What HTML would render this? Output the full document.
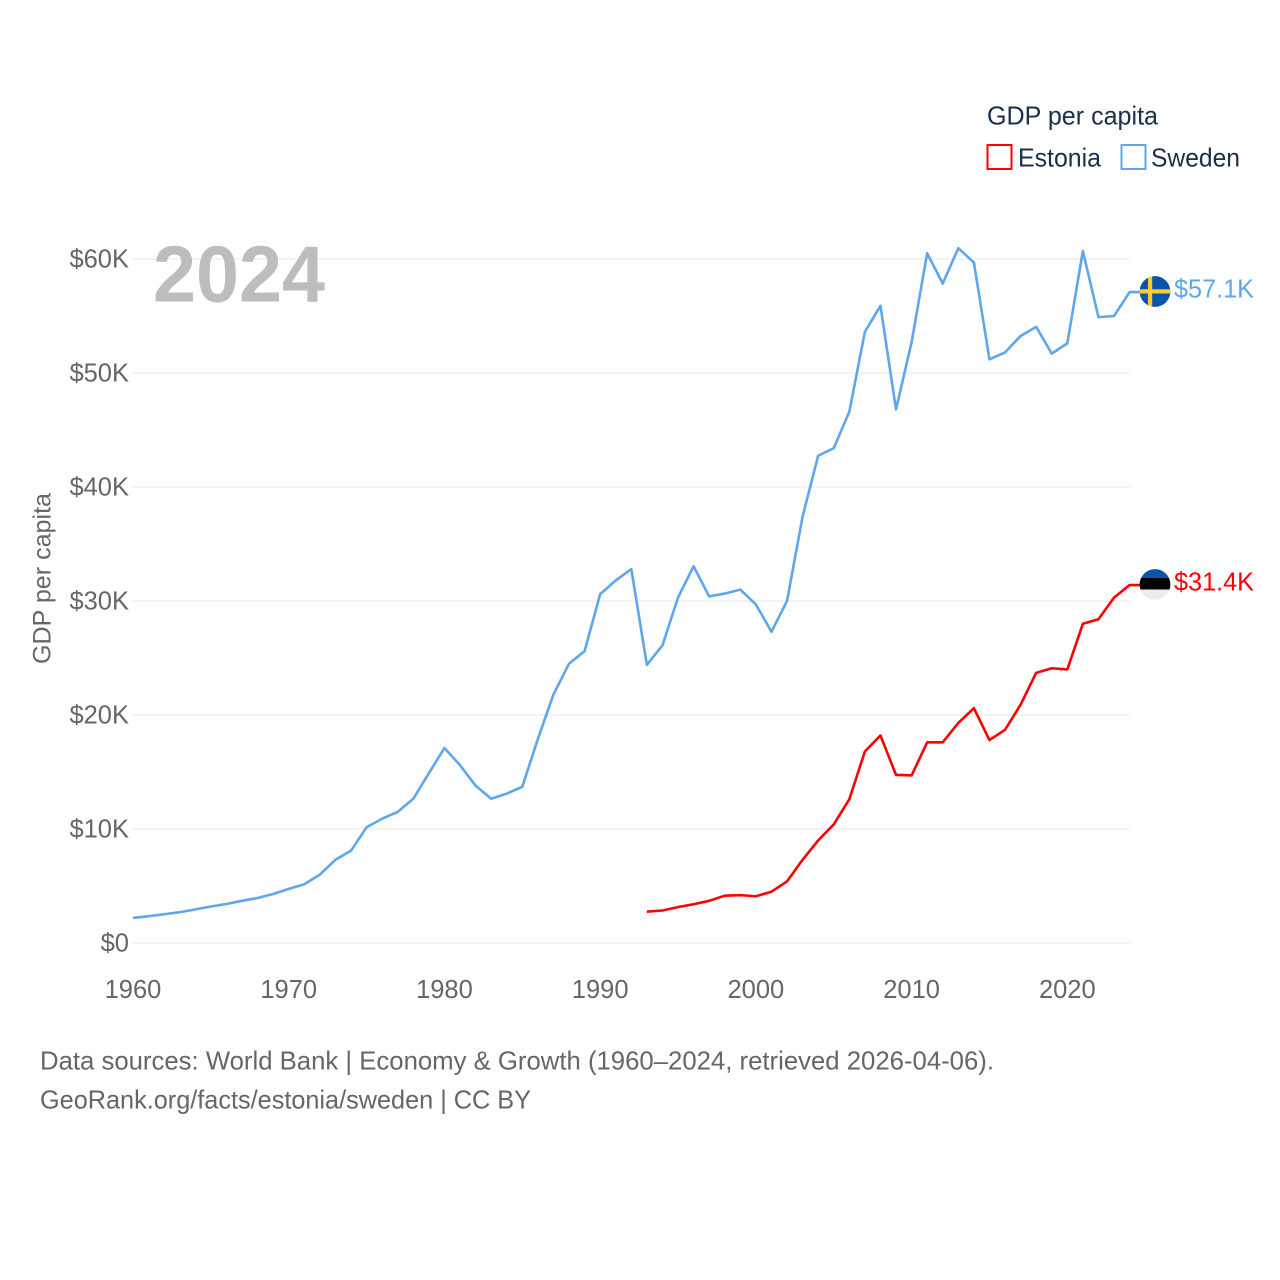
<!DOCTYPE html>
<html lang="en">
<head>
<meta charset="utf-8">
<title>GDP per capita: Estonia and Sweden</title>
<style>
html,body{margin:0;padding:0;background:#fff;}
svg{display:block;font-family:"Liberation Sans",sans-serif;}
</style>
</head>
<body>
<svg id="chart" xmlns="http://www.w3.org/2000/svg" width="1280" height="1280" viewBox="0 0 1280 1280">
  <rect width="1280" height="1280" fill="#ffffff"/>
  <g id="grid"></g>
  <g id="yticks"></g>
  <g id="xticks"></g>
  <text transform="translate(50.5,578.5) rotate(-90)" text-anchor="middle" font-size="25" fill="#666666" textLength="171" lengthAdjust="spacingAndGlyphs">GDP per capita</text>
  <text x="153" y="301.5" font-size="80" font-weight="bold" fill="#bdbdbd" textLength="172" lengthAdjust="spacingAndGlyphs">2024</text>
  <g id="series"></g>

  <defs>
    <clipPath id="sweden-clip"><circle cx="1155" cy="291.5" r="15.4"/></clipPath>
    <clipPath id="estonia-clip"><circle cx="1155" cy="584.5" r="15.4"/></clipPath>
  </defs>
  <g clip-path="url(#sweden-clip)">
    <rect x="1139" y="275" width="32" height="33" fill="#0b54ad"/>
    <rect x="1148" y="275" width="4.2" height="33" fill="#fecb2e"/>
    <rect x="1139" y="289.3" width="32" height="4.2" fill="#fecb2e"/>
  </g>
  <g clip-path="url(#estonia-clip)">
    <rect x="1139" y="568" width="32" height="10" fill="#0b54ad"/>
    <rect x="1139" y="578" width="32" height="11.5" fill="#000000"/>
    <rect x="1139" y="589.5" width="32" height="11" fill="#ececec"/>
  </g>
  <text x="1174" y="297.5" font-size="25.5" fill="#5ea6ee" textLength="80" lengthAdjust="spacingAndGlyphs">$57.1K</text>
  <text x="1174" y="590.5" font-size="25.5" fill="#ff0000" textLength="80" lengthAdjust="spacingAndGlyphs">$31.4K</text>

  <g>
    <text x="987" y="124.5" font-size="26" fill="#1b2f4b" textLength="171" lengthAdjust="spacingAndGlyphs">GDP per capita</text>
    <g>
      <rect x="987.5" y="145" width="24" height="24" fill="none" stroke="#ff0000" stroke-width="2"/>
      <text x="1018" y="166.5" font-size="26" fill="#1b2f4b" textLength="83" lengthAdjust="spacingAndGlyphs">Estonia</text>
    </g>
    <g>
      <rect x="1121.5" y="145" width="24" height="24" fill="none" stroke="#5ea6ee" stroke-width="2"/>
      <text x="1151" y="166.5" font-size="26" fill="#1b2f4b" textLength="89" lengthAdjust="spacingAndGlyphs">Sweden</text>
    </g>
  </g>

  <text x="40" y="1069.5" font-size="26" fill="#666666" textLength="954" lengthAdjust="spacingAndGlyphs">Data sources: World Bank | Economy &amp; Growth (1960–2024, retrieved 2026-04-06).</text>
  <text x="40" y="1108.5" font-size="26" fill="#666666" textLength="491" lengthAdjust="spacingAndGlyphs">GeoRank.org/facts/estonia/sweden | CC BY</text>
</svg>

<script>
const years = [1960,1961,1962,1963,1964,1965,1966,1967,1968,1969,1970,1971,1972,1973,1974,1975,1976,1977,1978,1979,1980,1981,1982,1983,1984,1985,1986,1987,1988,1989,1990,1991,1992,1993,1994,1995,1996,1997,1998,1999,2000,2001,2002,2003,2004,2005,2006,2007,2008,2009,2010,2011,2012,2013,2014,2015,2016,2017,2018,2019,2020,2021,2022,2023,2024];
const swedenValues = [2.2,2.35,2.52,2.7,2.95,3.2,3.42,3.7,3.95,4.3,4.75,5.15,6.0,7.3,8.1,10.15,10.9,11.5,12.65,14.9,17.1,15.6,13.8,12.65,13.1,13.7,17.9,21.8,24.5,25.6,30.6,31.8,32.8,24.4,26.1,30.3,33.05,30.4,30.65,31.0,29.7,27.3,30.0,37.4,42.75,43.4,46.6,53.6,55.9,46.8,52.7,60.5,57.85,60.95,59.7,51.2,51.8,53.25,54.05,51.7,52.6,60.7,54.9,55.0,57.1];
const estoniaValues = [null,null,null,null,null,null,null,null,null,null,null,null,null,null,null,null,null,null,null,null,null,null,null,null,null,null,null,null,null,null,null,null,null,2.75,2.85,3.15,3.4,3.7,4.15,4.2,4.1,4.5,5.4,7.3,9.0,10.4,12.6,16.8,18.2,14.75,14.7,17.6,17.6,19.3,20.6,17.8,18.7,20.9,23.7,24.1,24.0,28.0,28.4,30.3,31.4];
const yTickValues = [0,10,20,30,40,50,60];
const yTickLabels = ["$0","$10K","$20K","$30K","$40K","$50K","$60K"];
const xTickValues = [1960,1970,1980,1990,2000,2010,2020];

const NS = "http://www.w3.org/2000/svg";
const xScale = function (year) { return 133 + (year - 1960) * (996.6 / 64); };
const yScale = function (value) { return 943 - value * 11.4; };

const gridGroup = document.getElementById("grid");
const yTickGroup = document.getElementById("yticks");
const xTickGroup = document.getElementById("xticks");
const seriesGroup = document.getElementById("series");

yTickValues.forEach(function (value, i) {
  const y = yScale(value);
  const line = document.createElementNS(NS, "line");
  
  
  line.setAttribute("x1", 132);
  line.setAttribute("x2", 1130);
  line.setAttribute("y1", y);
  line.setAttribute("y2", y);
  line.setAttribute("stroke", "#ececec");
  line.setAttribute("stroke-width", 1.2);
  gridGroup.appendChild(line);

  const label = document.createElementNS(NS, "text");
  
  
  label.setAttribute("x", 129);
  label.setAttribute("y", y + 8.5);
  label.setAttribute("text-anchor", "end");
  label.setAttribute("font-size", 25.5);
  label.setAttribute("fill", "#666666");
  label.textContent = yTickLabels[i];
  yTickGroup.appendChild(label);
});

xTickValues.forEach(function (year) {
  const label = document.createElementNS(NS, "text");
  
  
  label.setAttribute("x", xScale(year));
  label.setAttribute("y", 998);
  label.setAttribute("text-anchor", "middle");
  label.setAttribute("font-size", 25.5);
  label.setAttribute("fill", "#666666");
  label.textContent = year;
  xTickGroup.appendChild(label);
});

function buildPoints(values) {
  const points = [];
  values.forEach(function (value, i) {
    if (value !== null) {
      points.push(xScale(years[i]).toFixed(2) + "," + yScale(value).toFixed(2));
    }
  });
  return points;
}

const swedenPoints = buildPoints(swedenValues);
swedenPoints.push("1140," + yScale(swedenValues[swedenValues.length - 1]).toFixed(2));
const swedenLine = document.createElementNS(NS, "polyline");


swedenLine.setAttribute("points", swedenPoints.join(" "));
swedenLine.setAttribute("fill", "none");
swedenLine.setAttribute("stroke", "#5ea6ee");
swedenLine.setAttribute("stroke-width", 2.6);
swedenLine.setAttribute("stroke-linejoin", "round");
seriesGroup.appendChild(swedenLine);

const estoniaPoints = buildPoints(estoniaValues);
estoniaPoints.push("1140," + yScale(estoniaValues[estoniaValues.length - 1]).toFixed(2));
const estoniaLine = document.createElementNS(NS, "polyline");


estoniaLine.setAttribute("points", estoniaPoints.join(" "));
estoniaLine.setAttribute("fill", "none");
estoniaLine.setAttribute("stroke", "#ff0000");
estoniaLine.setAttribute("stroke-width", 2.6);
estoniaLine.setAttribute("stroke-linejoin", "round");
seriesGroup.appendChild(estoniaLine);
</script>
</body>
</html>
